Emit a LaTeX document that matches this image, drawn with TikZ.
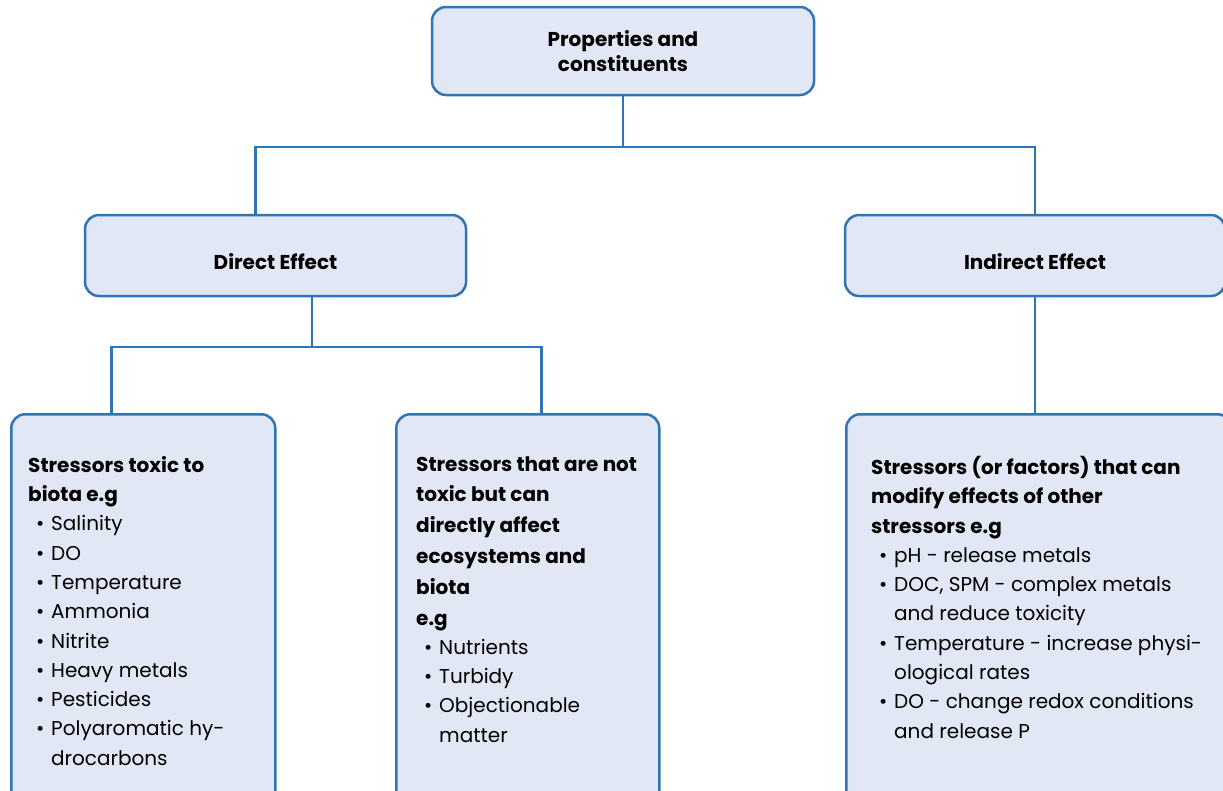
\documentclass[tikz,border=0pt]{standalone}
\usepackage{fontspec}
\setmainfont{Poppins}
\usetikzlibrary{positioning,calc}

\definecolor{boxfill}{HTML}{E1E7F5}
\definecolor{boxline}{HTML}{2E75B6}
\newcommand{\itm}[1]{\hspace*{8pt}\makebox[15pt][l]{\textbullet}#1}
\newcommand{\cnt}[1]{\hspace*{23pt}#1}

\begin{document}
\begin{tikzpicture}[x=1pt,y=-1pt,
    box/.style={rectangle,rounded corners=14pt,draw=boxline,line width=2.5pt,fill=boxfill,inner sep=0pt},
    head/.style={font=\bfseries\fontsize{20}{25}\selectfont,align=center},
    low/.style={text height=33pt,text depth=5pt},
    txt/.style={font=\fontsize{20}{29.3}\selectfont,align=left,anchor=north west,inner sep=0pt},
    link/.style={draw=boxline,line width=2.5pt},
    ]
    \useasboundingbox (0,0) rectangle (1223,790);
    \clip (0,0) rectangle (1223,790);
    % Top level
    \node[box,head,minimum width=382pt,minimum height=88pt] (prop) at (623,51) {Properties and\\constituents};
    % Second level
    \node[box,head,low,minimum width=381pt,minimum height=81pt] (dir) at (275.5,255.5) {Direct Effect};
    \node[box,head,low,minimum width=380pt,minimum height=81pt] (ind) at (1035,255.5) {Indirect Effect};
    % Third level
    \node[box,minimum width=264pt,minimum height=420pt,anchor=north west] (tox) at (10,413) {};
    \node[box,minimum width=263pt,minimum height=420pt,anchor=north west] (ntx) at (395,413) {};
    \node[box,minimum width=385pt,minimum height=420pt,anchor=north west] (mod) at (845,413) {};
    \node[txt] (toxt) at ($(tox.north west)+(18,43)$) {%
      \textbf{Stressors toxic to}\\
      \textbf{biota e.g}\\
      \itm{Salinity}\\
      \itm{DO}\\
      \itm{Temperature}\\
      \itm{Ammonia}\\
      \itm{Nitrite}\\
      \itm{Heavy metals}\\
      \itm{Pesticides}\\
      \itm{Polyaromatic hy-}\\
      \cnt{drocarbons}};
    \node[txt] (ntxt) at ($(ntx.north west)+(21,43)$) {%
      \textbf{Stressors that are not}\\[1.5pt]
      \textbf{toxic but can}\\[1.5pt]
      \textbf{directly affect}\\[1.5pt]
      \textbf{ecosystems and}\\[1.5pt]
      \textbf{biota}\\[1.5pt]
      \textbf{e.g}\\
      \itm{Nutrients}\\
      \itm{Turbidy}\\
      \itm{Objectionable}\\
      \cnt{matter}};
    \node[txt] (modt) at ($(mod.north west)+(26,43)$) {%
      \textbf{Stressors (or factors) that can}\\
      \textbf{modify effects of other}\\
      \textbf{stressors e.g}\\
      \itm{pH - release metals}\\
      \itm{DOC, SPM - complex metals}\\
      \cnt{and reduce toxicity}\\
      \itm{Temperature - increase physi-}\\
      \cnt{ological rates}\\
      \itm{DO - change redox conditions}\\
      \cnt{and release P}};
    % Connectors
    \coordinate (topj) at (623,147);
    \coordinate (midj) at (312,347);
    \draw[link] (prop.south) -- (topj);
    \draw[link] ($(dir.north)+(-20,0)$) |- (topj) -| (ind.north);
    \draw[link] ($(dir.south)+(36.5,0)$) -- (midj);
    \draw[link] ($(tox.north)+(-32,0)$) |- (midj) -| ($(ntx.north)+(13.5,0)$);
    \draw[link] (ind.south) -- (ind.south |- mod.north);
\end{tikzpicture}
\end{document}
